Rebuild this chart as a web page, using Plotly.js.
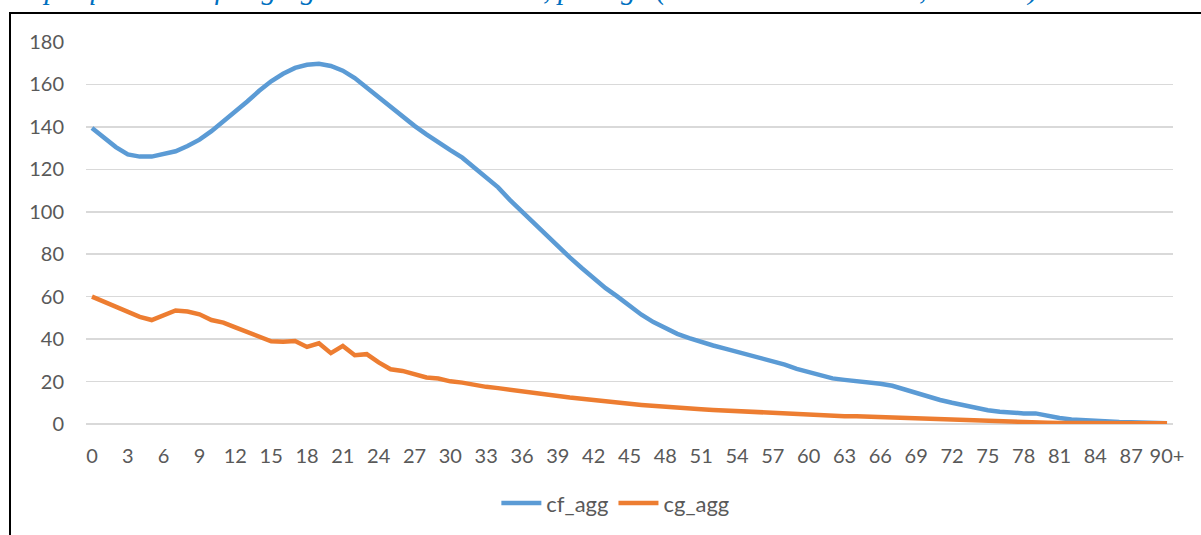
<!DOCTYPE html>
<html>
<head>
<meta charset="utf-8">
<script src="https://cdn.plot.ly/plotly-3.0.1.min.js"></script>
<style>
  html, body { margin: 0; padding: 0; background: #fff; overflow: hidden; }
  #wrap { position: relative; width: 1201px; height: 535px; }
  #chart { position: absolute; left: 0; top: 0; width: 1201px; height: 535px; }
  #frame { position: absolute; left: 9px; top: 12px; width: 1220px; height: 600px;
           border-top: 2px solid #000; border-left: 2px solid #000; pointer-events: none; }
</style>
</head>
<body>
<div id="wrap">
  <div id="chart"></div>
  <div id="frame"></div>
</div>
<script>
const ages = [];
for (let a = 0; a < 90; a++) ages.push(String(a));
ages.push("90+");

const cf_agg = [
  139.5, 135, 130.5, 127, 126, 126, 127, 128.5, 131, 134,
  138, 142.5, 147, 152, 157, 161.5, 165, 167.8, 169.3, 169.7,
  168.7, 166.5, 163, 158.5, 153.5, 149, 144.5, 140.5, 136.5, 132.5,
  129, 125.5, 121, 116.5, 111.5, 105.5, 100, 94.5, 89, 83.5,
  78.5, 73.5, 68.5, 64, 60, 55.5, 51.5, 48, 45, 42.5,
  40.5, 38.5, 37, 35.5, 34, 32.5, 31.5, 30, 28, 26,
  24.5, 23, 21.5, 20.8, 20.3, 19.7, 19, 18, 16.2, 14.5,
  12.8, 11.3, 10, 8.7, 7.5, 6.5, 5.8, 5.2, 5.0, 5.0,
  3.7, 2.8, 2.1, 1.7, 1.4, 1.1, 0.9, 0.8, 0.6, 0.5,
  0.4
];

const cg_agg = [
  60, 57.5, 55, 52.5, 50.5, 49, 51, 53.5, 53, 51.7,
  49, 47.8, 45.5, 43.5, 41.5, 39, 38.8, 39.1, 36.3, 38,
  33.4, 36.8, 32.4, 32.9, 29, 25.8, 25, 23.3, 21.9, 21.4,
  20.1, 19.5, 18.3, 17.5, 16.9, 16.1, 15.3, 14.6, 13.9, 13.2,
  12.5, 11.9, 11.2, 10.6, 10.0, 9.5, 9.0, 8.5, 8.1, 7.7,
  7.2, 6.9, 6.6, 6.3, 6.1, 5.8, 5.6, 5.4, 5.0, 4.7,
  4.4, 4.1, 3.8, 3.7, 3.6, 3.4, 3.2, 3.0, 2.8, 2.5,
  2.2, 1.9, 1.7, 1.5, 1.3, 1.2, 1.0, 0.9, 0.9, 0.8,
  0.6, 0.5, 0.4, 0.4, 0.4, 0.3, 0.3, 0.3, 0.3, 0.3,
  0.3
];

const xTickLabels = ages.filter((_, i) => i % 3 === 0);
const yTickVals = [0, 20, 40, 60, 80, 100, 120, 140, 160, 180];

const titleText = "Graphique 6 : Profil agrégé de consommation, par âge (en milliards de FCFA, en 2019)";

const font = { family: "Lato, 'Open Sans', sans-serif", size: 20, color: "#595959" };
const legendFont = { family: "Lato, 'Open Sans', sans-serif", size: 22, color: "#595959" };

const traces = [
  { x: ages, y: cf_agg, name: "cf_agg", type: "scatter", mode: "lines",
    line: { color: "#5B9BD5", width: 4.5 } },
  { x: ages, y: cg_agg, name: "cg_agg", type: "scatter", mode: "lines",
    line: { color: "#ED7D31", width: 4.5 } }
];

const layout = {
  width: 1201, height: 535,
  margin: { l: 86, r: 28, t: 42, b: 110 },
  paper_bgcolor: "rgba(0,0,0,0)", plot_bgcolor: "#fff",
  font: font,
  showlegend: true,
  legend: { orientation: "h", x: 0.487, xanchor: "center", y: -0.204, yanchor: "middle",
            font: legendFont, bgcolor: "rgba(0,0,0,0)", itemwidth: 40 },
  xaxis: {
    type: "category", range: [-0.5, 90.5], fixedrange: true,
    tickmode: "array", tickvals: xTickLabels, ticktext: xTickLabels,
    ticks: "outside", ticklen: 14, tickcolor: "rgba(0,0,0,0)",
    showgrid: false, zeroline: false, showline: false,
    tickfont: font
  },
  yaxis: {
    range: [0, 180], fixedrange: true,
    tickmode: "array", tickvals: yTickVals,
    ticks: "outside", ticklen: 17, tickcolor: "rgba(0,0,0,0)",
    showgrid: true, gridcolor: "#d9d9d9", gridwidth: 1.5,
    zeroline: true, zerolinecolor: "#d9d9d9", zerolinewidth: 1.5,
    showline: false, tickfont: font
  },
  annotations: [{
    text: titleText, xref: "paper", yref: "paper",
    x: -0.084, xanchor: "left", y: 1.088, yanchor: "bottom",
    showarrow: false,
    font: { family: "'Liberation Serif', serif", size: 29.5, color: "#0070C0", style: "italic" }
  }]
};

Plotly.newPlot("chart", traces, layout, { displayModeBar: false, staticPlot: true });
</script>
</body>
</html>
